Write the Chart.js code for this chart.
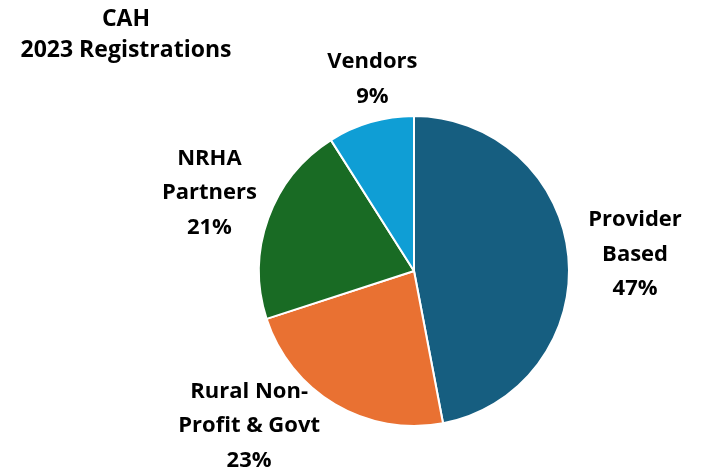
<!DOCTYPE html>
<html>
<head>
<meta charset="utf-8">
<script src="https://cdn.jsdelivr.net/npm/chart.js@4.4.0/dist/chart.umd.min.js"></script>
<style>
  html, body { margin: 0; padding: 0; background: #fff; }
  #wrap { width: 705px; height: 474px; position: relative; }
</style>
</head>
<body>
<div id="wrap"><canvas id="pieCanvas" width="705" height="474"></canvas></div>
<script>
// Dados do gráfico
const categories = [['Provider', 'Based'], ['Rural Non-', 'Profit & Govt'], ['NRHA', 'Partners'], ['Vendors']];
const shares = [47, 23, 21, 9];
const sliceColors = ['#165E80', '#E97132', '#196B24', '#0F9ED5'];
const titleLines = ['CAH', '2023 Registrations'];

const FONT = '"Open Sans", Roboto, sans-serif';

// ajustes finos da posição de cada rótulo (px)
const nudge = [[12, 3], [-58, -26], [-7, -7], [17, 10]];

// Plugin: título e rótulos fora da pizza
const outsideLabels = {
    id: 'outsideLabels',
    afterDraw(chart) {
        const ctx = chart.ctx;
        ctx.save();
        ctx.fillStyle = '#000';
        ctx.textAlign = 'center';
        ctx.textBaseline = 'middle';

        // título
        ctx.font = 'bold 23px ' + FONT;
        titleLines.forEach((line, i) => ctx.fillText(line, 126, 19 + i * 31));

        // rótulos
        ctx.font = 'bold 22px ' + FONT;
        const meta = chart.getDatasetMeta(0);
        meta.data.forEach((arc, i) => {
            const mid = (arc.startAngle + arc.endAngle) / 2;
            const dist = arc.outerRadius + 55;
            const cx = arc.x + Math.cos(mid) * dist + nudge[i][0];
            const cy = arc.y + Math.sin(mid) * dist + nudge[i][1];
            const lines = categories[i].concat([shares[i] + '%']);
            const lh = 34.5;
            const top = cy - (lines.length - 1) * lh / 2;
            lines.forEach((line, j) => ctx.fillText(line, cx, top + j * lh));
        });
        ctx.restore();
    }
};

const ctx = document.getElementById('pieCanvas').getContext('2d');
const myChart = new Chart(ctx, {
    type: 'pie',
    data: {
        labels: categories.map(c => c.join(' ')),
        datasets: [{
            data: shares,
            backgroundColor: sliceColors,
            borderColor: '#ffffff',
            borderWidth: 2
        }]
    },
    options: {
        responsive: false,
        animation: false,
        layout: {
            padding: { left: 258, right: 135, top: 115, bottom: 47 }
        },
        plugins: {
            legend: { display: false },
            tooltip: { enabled: false }
        }
    },
    plugins: [outsideLabels]
});
</script>
</body>
</html>
